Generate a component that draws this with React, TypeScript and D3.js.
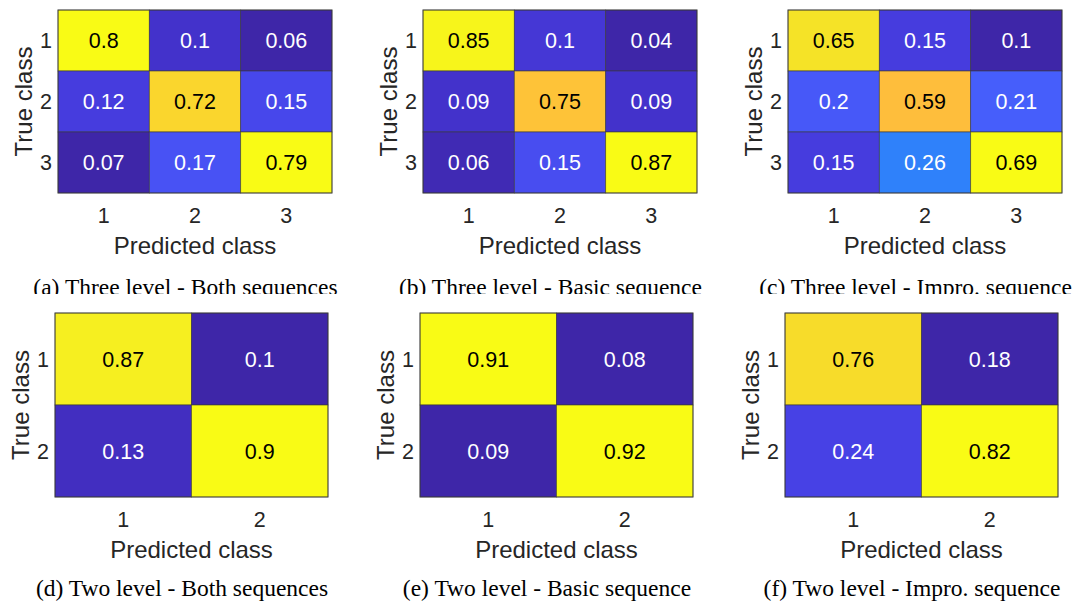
import * as d3 from "d3";

// class labels
const threeClasses = ["1", "2", "3"];
const twoClasses = ["1", "2"];

// confusion matrices, rows = true class, cols = predicted class
const threeBoth = [
  [0.8, 0.1, 0.06],
  [0.12, 0.72, 0.15],
  [0.07, 0.17, 0.79],
];
const threeBasic = [
  [0.85, 0.1, 0.04],
  [0.09, 0.75, 0.09],
  [0.06, 0.15, 0.87],
];
const threeImpro = [
  [0.65, 0.15, 0.1],
  [0.2, 0.59, 0.21],
  [0.15, 0.26, 0.69],
];
const twoBoth = [
  [0.87, 0.1],
  [0.13, 0.9],
];
const twoBasic = [
  [0.91, 0.08],
  [0.09, 0.92],
];
const twoImpro = [
  [0.76, 0.18],
  [0.24, 0.82],
];

const captions = [
  "(a) Three level - Both sequences",
  "(b) Three level - Basic sequence",
  "(c) Three level - Impro. sequence",
  "(d) Two level - Both sequences",
  "(e) Two level - Basic sequence",
  "(f) Two level - Impro. sequence",
];

// MATLAB parula (64 entries)
const PARULA_RGB: [number, number, number][] = [
  [0.2422, 0.1504, 0.6603], [0.2504, 0.165, 0.7076], [0.2578, 0.1818, 0.7511],
  [0.2647, 0.1978, 0.7952], [0.2706, 0.2147, 0.8364], [0.2751, 0.2342, 0.871],
  [0.2783, 0.2559, 0.8991], [0.2803, 0.2782, 0.9221], [0.2813, 0.3006, 0.9414],
  [0.281, 0.3228, 0.9579], [0.2795, 0.3447, 0.9717], [0.276, 0.3667, 0.9829],
  [0.2699, 0.3892, 0.9906], [0.2602, 0.4123, 0.9952], [0.244, 0.4358, 0.9988],
  [0.2206, 0.4603, 0.9973], [0.1963, 0.4847, 0.9892], [0.1834, 0.5074, 0.9798],
  [0.1786, 0.5289, 0.9682], [0.1764, 0.5499, 0.952], [0.1687, 0.5703, 0.9359],
  [0.154, 0.5902, 0.9218], [0.146, 0.6091, 0.9079], [0.138, 0.6276, 0.8973],
  [0.1248, 0.6459, 0.8883], [0.1113, 0.6635, 0.8763], [0.0952, 0.6798, 0.8598],
  [0.0689, 0.6948, 0.8394], [0.0297, 0.7082, 0.8163], [0.0036, 0.7203, 0.7917],
  [0.0067, 0.7312, 0.766], [0.0433, 0.7411, 0.7394], [0.0964, 0.75, 0.712],
  [0.1408, 0.7584, 0.6842], [0.1717, 0.767, 0.6554], [0.1938, 0.7758, 0.6251],
  [0.2161, 0.7843, 0.5923], [0.247, 0.7918, 0.5567], [0.2906, 0.7973, 0.5188],
  [0.3406, 0.8008, 0.4789], [0.3909, 0.8029, 0.4354], [0.4456, 0.8024, 0.3909],
  [0.5044, 0.7993, 0.348], [0.5616, 0.7942, 0.3045], [0.6174, 0.7876, 0.2612],
  [0.672, 0.7793, 0.2227], [0.7242, 0.7698, 0.191], [0.7738, 0.7598, 0.1646],
  [0.8203, 0.7498, 0.1535], [0.8634, 0.7406, 0.1596], [0.9035, 0.733, 0.1774],
  [0.9393, 0.7288, 0.21], [0.9728, 0.7298, 0.2394], [0.9956, 0.7434, 0.2371],
  [0.997, 0.7659, 0.2199], [0.9952, 0.7893, 0.2028], [0.9892, 0.8136, 0.1885],
  [0.9786, 0.8386, 0.1766], [0.9676, 0.8639, 0.1643], [0.961, 0.889, 0.1537],
  [0.9597, 0.9135, 0.1423], [0.9628, 0.9373, 0.1265], [0.9691, 0.9606, 0.1064],
  [0.9769, 0.9839, 0.0805],
];
const PARULA = PARULA_RGB.map(([r, g, b]) =>
  d3.rgb(r * 255, g * 255, b * 255).formatHex(),
);

const SANS = "'Liberation Sans', Arial, Helvetica, sans-serif";
const SERIF = "'Liberation Serif', 'Times New Roman', serif";
const AXIS_COLOR = "#262626";

interface PanelProps {
  classes: string[];
  values: number[][];
  caption: string;
  left: number;
  top: number;
  width: number;
  height: number;
  captionY: number;
  clipCaption?: number;
  id: string;
}

const Panel = ({
  classes,
  values,
  caption,
  left,
  top,
  width,
  height,
  captionY,
  clipCaption,
  id,
}: PanelProps) => {
  const x = d3.scaleBand<string>().domain(classes).range([left, left + width]);
  const y = d3.scaleBand<string>().domain(classes).range([top, top + height]);
  const flat = values.flat();
  // colour limits follow each matrix's own min/max, like MATLAB's heatmap
  const color = d3
    .scaleQuantize<string>()
    .domain([d3.min(flat) as number, d3.max(flat) as number])
    .range(PARULA);
  const textColor = (fill: string) => {
    const c = d3.rgb(fill);
    const lum = (0.2126 * c.r + 0.7152 * c.g + 0.0722 * c.b) / 255;
    return lum > 0.5 ? "#000000" : "#ffffff";
  };
  const cx = left + width / 2;
  const cy = top + height / 2;

  return (
    <g>
      {values.map((row, i) =>
        row.map((v, j) => {
          const fill = color(v);
          const px = x(classes[j]) as number;
          const py = y(classes[i]) as number;
          return (
            <g key={`${i}-${j}`}>
              <rect
                x={px}
                y={py}
                width={x.bandwidth()}
                height={y.bandwidth()}
                fill={fill}
                stroke="#3a3a3a"
                strokeOpacity={0.75}
                strokeWidth={0.8}
              />
              <text
                x={px + x.bandwidth() / 2}
                y={py + y.bandwidth() / 2}
                dy="0.36em"
                textAnchor="middle"
                fill={textColor(fill)}
                fontFamily={SANS}
                fontSize={21.5}
              >
                {String(v)}
              </text>
            </g>
          );
        }),
      )}
      <rect
        x={left}
        y={top}
        width={width}
        height={height}
        fill="none"
        stroke="#3a3a3a"
        strokeOpacity={0.8}
        strokeWidth={0.9}
      />
      {classes.map((c) => (
        <text
          key={`xt${c}`}
          x={(x(c) as number) + x.bandwidth() / 2}
          y={top + height + 30}
          textAnchor="middle"
          fill={AXIS_COLOR}
          fontFamily={SANS}
          fontSize={21.5}
        >
          {c}
        </text>
      ))}
      {classes.map((c) => (
        <text
          key={`yt${c}`}
          x={left - 6}
          y={(y(c) as number) + y.bandwidth() / 2}
          dy="0.36em"
          textAnchor="end"
          fill={AXIS_COLOR}
          fontFamily={SANS}
          fontSize={21.5}
        >
          {c}
        </text>
      ))}
      <text
        x={cx}
        y={top + height + 61}
        textAnchor="middle"
        fill={AXIS_COLOR}
        fontFamily={SANS}
        fontSize={24}
      >
        Predicted class
      </text>
      <text
        transform={`translate(${left - 26},${cy}) rotate(-90)`}
        textAnchor="middle"
        fill={AXIS_COLOR}
        fontFamily={SANS}
        fontSize={24}
      >
        True class
      </text>
      {clipCaption !== undefined && (
        <clipPath id={`clip-${id}`}>
          <rect x={0} y={0} width={1078} height={clipCaption} />
        </clipPath>
      )}
      <text
        x={cx - 9.5}
        y={captionY}
        textAnchor="middle"
        fill="#000"
        fontFamily={SERIF}
        fontSize={23.5}
        clipPath={clipCaption !== undefined ? `url(#clip-${id})` : undefined}
      >
        {caption}
      </text>
    </g>
  );
};

const panels = [
  { id: "a", classes: threeClasses, values: threeBoth, left: 58, top: 10, width: 274, height: 183, captionY: 294.5, clip: 294 },
  { id: "b", classes: threeClasses, values: threeBasic, left: 423, top: 10, width: 274, height: 183, captionY: 294.5, clip: 294 },
  { id: "c", classes: threeClasses, values: threeImpro, left: 788, top: 10, width: 274, height: 183, captionY: 294.5, clip: 294 },
  { id: "d", classes: twoClasses, values: twoBoth, left: 55, top: 313, width: 273, height: 184, captionY: 596 },
  { id: "e", classes: twoClasses, values: twoBasic, left: 420, top: 313, width: 273, height: 184, captionY: 596 },
  { id: "f", classes: twoClasses, values: twoImpro, left: 785, top: 313, width: 273, height: 184, captionY: 596 },
];

export default function App() {
  return (
    <svg
      width={1078}
      height={602}
      style={{ position: "absolute", left: 0, top: 0, background: "#fff" }}
    >
      <rect x={0} y={0} width={1078} height={602} fill="#fff" />
      {panels.map((p, i) => (
        <Panel
          key={p.id}
          id={p.id}
          classes={p.classes}
          values={p.values}
          caption={captions[i]}
          left={p.left}
          top={p.top}
          width={p.width}
          height={p.height}
          captionY={p.captionY}
          clipCaption={p.clip}
        />
      ))}
    </svg>
  );
}
